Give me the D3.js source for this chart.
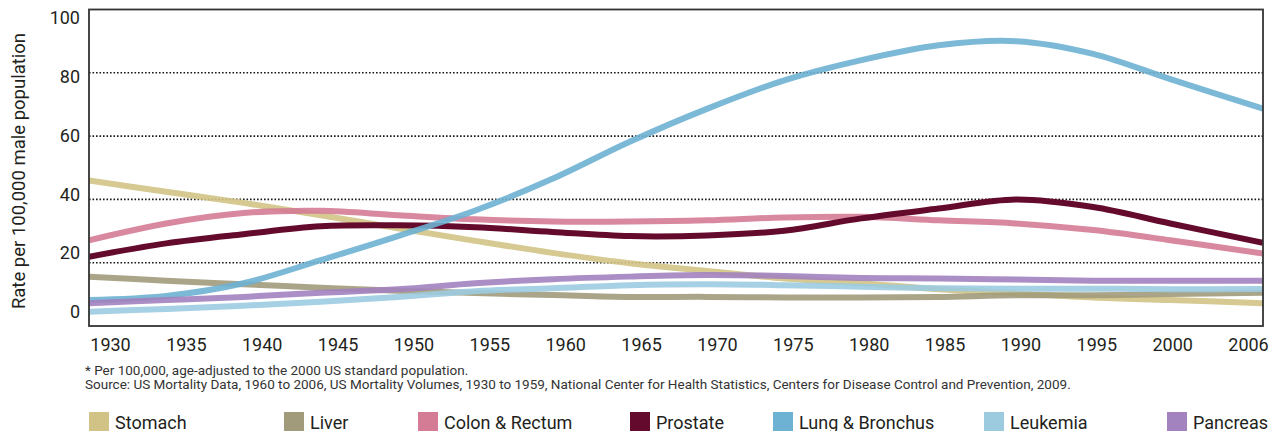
<!DOCTYPE html>
<html>
<head>
<meta charset="utf-8">
<script src="https://cdn.jsdelivr.net/npm/d3@7"></script>
<style>
  html, body { margin: 0; padding: 0; background: #fff; overflow: hidden; }
  svg { display: block; font-family: Roboto, "Liberation Sans", sans-serif; }
</style>
</head>
<body>
<svg id="chart" width="1279" height="431"></svg>
<script>
// ---- data ----
const years = [1930, 1935, 1940, 1945, 1950, 1955, 1960, 1965, 1970, 1975, 1980, 1985, 1990, 1995, 2000, 2006];
const xTickLabels = ["1930","1935","1940","1945","1950","1955","1960","1965","1970","1975","1980","1985","1990","1995","2000","2006"];
const yTickValues = [0, 20, 40, 60, 80, 100];
const gridValues = [20, 40, 60, 80];

const stomach  = [46.0, 42.4, 38.9, 35.0, 30.9, 26.9, 23.1, 19.8, 17.4, 15.0, 13.5, 11.6, 10.3, 9.0, 8.2, 7.2];
const liver    = [15.6, 14.3, 13.2, 12.1, 11.1, 10.4, 9.8, 9.2, 9.2, 9.0, 9.0, 9.2, 9.7, 9.7, 10.1, 10.5];
const colon    = [27.1, 32.4, 35.7, 36.4, 35.0, 33.7, 33.0, 33.0, 33.4, 34.3, 34.5, 33.4, 32.4, 30.3, 27.1, 22.9];
const prostate = [21.9, 26.1, 29.0, 31.5, 31.8, 31.2, 29.7, 28.4, 28.6, 30.1, 34.0, 37.1, 40.0, 37.6, 32.4, 26.3];
const lung     = [8.2, 9.5, 13.5, 20.8, 28.4, 36.5, 46.5, 58.2, 68.6, 77.6, 84.0, 88.7, 90.0, 86.0, 78.0, 68.7];
const leukemia = [4.5, 5.4, 6.4, 7.7, 9.2, 11.0, 11.9, 12.9, 13.2, 12.9, 12.4, 11.9, 11.8, 11.8, 11.6, 11.7];
const pancreas = [7.2, 8.2, 9.2, 10.5, 11.6, 13.5, 14.8, 15.6, 16.1, 15.8, 15.2, 15.0, 14.7, 14.3, 14.3, 14.3];

const seriesNames  = ["Stomach", "Liver", "Colon & Rectum", "Prostate", "Lung & Bronchus", "Leukemia", "Pancreas"];
const seriesValues = [stomach, liver, colon, prostate, lung, leukemia, pancreas];
const seriesColors = ["#d1c385", "#a19b7b", "#d47b95", "#640a2c", "#6db1d3", "#9ccbe0", "#a282bf"];

const footnote1 = "* Per 100,000, age-adjusted to the 2000 US standard population.";
const footnote2 = "Source: US Mortality Data, 1960 to 2006, US Mortality Volumes, 1930 to 1959, National Center for Health Statistics, Centers for Disease Control and Prevention, 2009.";
const yTitle = "Rate per 100,000 male population";

// ---- layout ----
const plot = { left: 89, right: 1263, top: 9.5, bottom: 326 };
const legendX = [89, 284, 418, 630, 773, 984, 1167];

const svg = d3.select("#chart");

const x = d3.scaleLinear().domain([1930, 2006]).range([plot.left, plot.right]);
const y = d3.scaleLinear().domain([0, 100]).range([plot.bottom, plot.top]);
// label positions as drawn in the reference (offset from the grid)
const xLab = d3.scalePoint().domain(xTickLabels).range([110, 1248]);
const yLab = d3.scaleLinear().domain([0, 100]).range([312, 18]);

// clip
svg.append("defs").append("clipPath").attr("id", "clip")
  .append("rect")
  .attr("x", plot.left).attr("y", plot.top)
  .attr("width", plot.right - plot.left).attr("height", plot.bottom - plot.top);

// grid
svg.append("g").selectAll("line").data(gridValues).join("line")
  .attr("x1", plot.left).attr("x2", plot.right)
  .attr("y1", d => y(d)).attr("y2", d => y(d))
  .attr("stroke", "#1a1a1a").attr("stroke-width", 1.6)
  .attr("stroke-dasharray", "1.6,1.9");

// lines
const line = d3.line().x((d, i) => x(years[i])).y(d => y(d)).curve(d3.curveCatmullRom.alpha(0.5));
svg.append("g").attr("clip-path", "url(#clip)")
  .selectAll("path").data(seriesValues).join("path")
  .attr("d", d => line(d))
  .attr("fill", "none")
  .attr("stroke", (d, i) => seriesColors[i])
  .attr("stroke-width", 6)
  .attr("stroke-opacity", (d, i) => i === 3 ? 1 : 0.9);

// frame
svg.append("rect")
  .attr("x", plot.left).attr("y", plot.top)
  .attr("width", plot.right - plot.left).attr("height", plot.bottom - plot.top)
  .attr("fill", "none").attr("stroke", "#333").attr("stroke-width", 1.8);

// y axis labels
const yAxis = svg.append("g").attr("transform", `translate(${plot.left},0)`)
  .call(d3.axisLeft(yLab).tickValues(yTickValues).tickSize(0).tickPadding(9).tickFormat(d3.format("d")));
yAxis.select(".domain").remove();
yAxis.selectAll("text").attr("font-size", 18).attr("fill", "#231f20")
  .attr("font-family", "Roboto, 'Liberation Sans', sans-serif");

// x axis labels
const xAxis = svg.append("g").attr("transform", `translate(0,${plot.bottom})`)
  .call(d3.axisBottom(xLab).tickSize(0).tickPadding(12));
xAxis.select(".domain").remove();
xAxis.selectAll("text").attr("font-size", 18).attr("fill", "#231f20")
  .attr("font-family", "Roboto, 'Liberation Sans', sans-serif");

// y title
svg.append("text")
  .attr("transform", "translate(25,171) rotate(-90)")
  .attr("text-anchor", "middle")
  .attr("font-size", 18.5).attr("fill", "#231f20")
  .text(yTitle);

// footnotes
svg.append("text").attr("x", 85).attr("y", 375).attr("font-size", 13.5).attr("fill", "#333").text(footnote1);
svg.append("text").attr("x", 85).attr("y", 389).attr("font-size", 13.5).attr("fill", "#333").text(footnote2);

// legend
const lg = svg.append("g").selectAll("g").data(seriesNames).join("g")
  .attr("transform", (d, i) => `translate(${legendX[i]},412)`);
lg.append("rect").attr("width", 20).attr("height", 20).attr("fill", (d, i) => seriesColors[i]);
lg.append("text").attr("x", 26).attr("y", 16.5).attr("font-size", 18).attr("fill", "#231f20").text(d => d);
</script>
</body>
</html>
